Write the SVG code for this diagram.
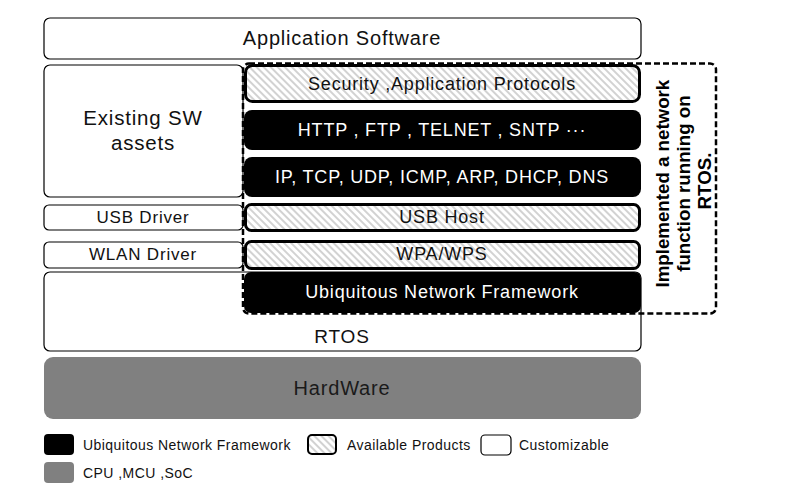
<svg xmlns="http://www.w3.org/2000/svg" width="785" height="501" viewBox="0 0 785 501">
<defs>
<pattern id="hatch" patternUnits="userSpaceOnUse" width="5" height="5" patternTransform="rotate(45)">
<rect width="5" height="5" fill="#fff"/>
<line x1="0" y1="1" x2="5" y2="1" stroke="#c4c4c4" stroke-width="1.5"/>
</pattern>
</defs>
<style>
.t{font-family:"Liberation Sans",Arial,sans-serif;text-anchor:middle;letter-spacing:0.8px}
.lg{font-family:"Liberation Sans",Arial,sans-serif;font-size:14px;letter-spacing:0.45px;fill:#111}
.wbox{fill:#fff;stroke:#000;stroke-width:1.2}
.hbox{fill:url(#hatch);stroke:#000;stroke-width:3}
.bbox{fill:#000}
.wt{fill:#fff;font-size:18px}
.kt{fill:#111;font-size:18px}
</style>
<rect width="785" height="501" fill="#fff"/>

<g id="app-software">
<rect class="wbox" x="44" y="18" width="597" height="41" rx="6"/>
<text class="t" x="342" y="45" font-size="20" fill="#111">Application Software</text>
</g>
<g id="existing-sw">
<rect class="wbox" x="44" y="65" width="199" height="132" rx="6"/>
<text class="t" x="143" y="125" font-size="20.5" fill="#111">Existing SW</text>
<text class="t" x="143" y="150" font-size="20.5" fill="#111">assets</text>
</g>
<g id="usb-driver">
<rect class="wbox" x="44" y="205" width="199" height="25" rx="5"/>
<text class="t" x="143" y="223" font-size="17" fill="#111">USB Driver</text>
</g>
<g id="wlan-driver">
<rect class="wbox" x="44" y="242" width="199" height="26" rx="5"/>
<text class="t" x="143" y="260" font-size="17" fill="#111">WLAN Driver</text>
</g>
<g id="rtos">
<rect class="wbox" x="44" y="272" width="597" height="79" rx="6"/>
<text class="t" x="342" y="343" font-size="19" fill="#111">RTOS</text>
</g>
<g id="hardware">
<rect x="44" y="357" width="597" height="62" rx="9" fill="#808080"/>
<text class="t" x="342" y="395" font-size="20" fill="#1a1a1a">HardWare</text>
</g>

<g id="network-function">
<rect x="243" y="63.5" width="473" height="250" rx="6" fill="none" stroke="#000" stroke-width="2.5" stroke-dasharray="6,3"/>
<text font-family="'Liberation Sans',Arial,sans-serif" font-weight="bold" font-size="18.7" text-anchor="middle" fill="#000" transform="translate(0,181) rotate(-90)">
<tspan x="0" y="669">Implemented a network</tspan>
<tspan x="0" y="690">function running on</tspan>
<tspan x="0" y="711">RTOS.</tspan>
</text>
</g>

<g id="security">
<rect class="hbox" x="245.5" y="65.5" width="394" height="36" rx="7"/>
<text class="t kt" x="442" y="90">Security ,Application Protocols</text>
</g>
<g id="http">
<rect class="bbox" x="244" y="110" width="397" height="40" rx="8"/>
<text class="t wt" x="442" y="136">HTTP , FTP , TELNET , SNTP ···</text>
</g>
<g id="ip">
<rect class="bbox" x="244" y="157" width="397" height="40" rx="8"/>
<text class="t wt" x="442" y="183">IP, TCP, UDP, ICMP, ARP, DHCP, DNS</text>
</g>
<g id="usb-host">
<rect class="hbox" x="245.5" y="204.5" width="394" height="26" rx="6"/>
<text class="t kt" x="442" y="223" font-size="17">USB Host</text>
</g>
<g id="wpa-wps">
<rect class="hbox" x="245.5" y="241.5" width="394" height="27" rx="6"/>
<text class="t kt" x="442" y="260" font-size="17">WPA/WPS</text>
</g>
<g id="unf">
<rect class="bbox" x="244" y="272" width="397" height="41" rx="7"/>
<text class="t wt" x="442" y="298">Ubiquitous Network Framework</text>
</g>

<g id="legend">
<rect x="44" y="434" width="30" height="21" rx="4" fill="#000"/>
<text class="lg" x="83" y="450">Ubiquitous Network Framework</text>
<rect x="308" y="435" width="28" height="19" rx="4" fill="url(#hatch)" stroke="#000" stroke-width="2"/>
<text class="lg" x="347" y="450">Available Products</text>
<rect x="481" y="435" width="30" height="20" rx="4" fill="#fff" stroke="#000" stroke-width="1.2"/>
<text class="lg" x="519" y="450">Customizable</text>
<rect x="44" y="462" width="30" height="21" rx="4" fill="#808080"/>
<text class="lg" x="83" y="478">CPU ,MCU ,SoC</text>
</g>
<g id="connectors"></g>
</svg>
